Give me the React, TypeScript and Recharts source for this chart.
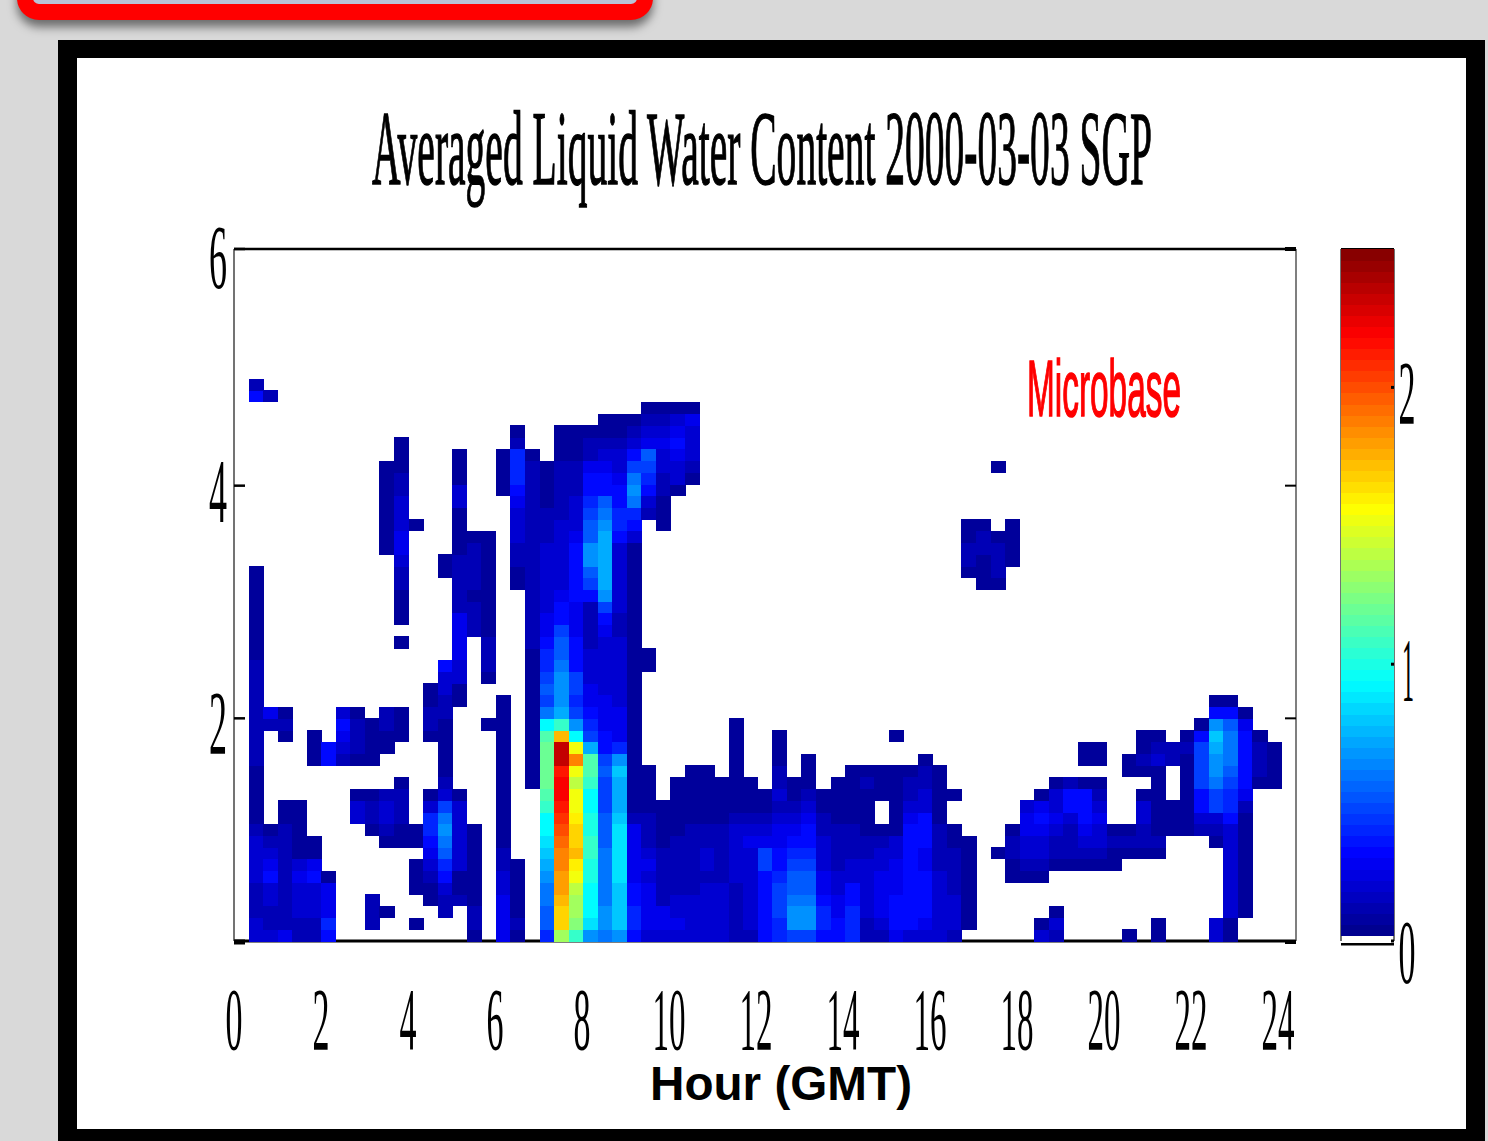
import { ScatterChart, Scatter, XAxis, YAxis, ReferenceLine } from 'recharts';

// plot box in page pixels
const W = 1488;
const H = 1141;
const LEFT = 234;
const RIGHT = 1296;
const TOP = 249;
const BOTTOM = 941;
const BAR_LEFT = 1341;
const BAR_RIGHT = 1394;

const hourTicks = [0, 2, 4, 6, 8, 10, 12, 14, 16, 18, 20, 22, 24];
const heightTicks = [0, 2, 4, 6];
const colorTicks = [0, 1, 2];

const COL_HOURS = 0.3288; // one retrieval column
const ROW_KM = 0.1016; // one range gate

// letters are LWC levels, each step is 1/15 g/m3
const LEVELS = '0123456789abcdefghijklmnopqrstuvwxyz';

// one entry per column: [first row from the ground, levels going up]
const columnRuns: [number, string][][] = [
  [],
  [[0, '33222333321111122222222211111111'], [46, '52']],
  [[0, '3223354321'], [18, '24'], [46, '2']],
  [[0, '422222222211'], [17, '121']],
  [[0, '223334311111']],
  [[0, '223335411'], [15, '111']],
  [[0, '564441'], [15, '55']],
  [[15, '23453']],
  [[10, '331'], [15, '12221']],
  [[1, '222'], [9, '1221'], [15, '1111']],
  [[2, '1'], [8, '12332'], [16, '1122'], [33, '11111111']],
  [[8, '112221'], [17, '111'], [25, '1'], [27, '1112234433322111']],
  [[1, '1'], [4, '111'], [8, '11'], [35, '1']],
  [[3, '1123456631'], [17, '12211']],
  [[2, '2235689a97321111122335'], [31, '11']],
  [[3, '2113333331'], [20, '1133444422222111133111']],
  [[0, '1221111111'], [26, '222122221']],
  [[18, '1'], [22, '1222111111111']],
  [[0, '444433221111111111111'], [38, '1111']],
  [[0, '1211111'], [30, '11223334566621']],
  [[13, '11111111111122222222222222221']],
  [[0, '68899abcdeeghiiiihe9787665443333332221111']],
  [[0, 'kppqrrsstuvwxxwzzqgbaaa988755433333322222111']],
  [[0, 'gjkklnoqpponnlnsnea76775554445555543332221 11'.replace(' ', '')]],
  [[0, 'adeeeffggffeeghhb765443332222578aa8876554221']],
  [[0, '9aa999998887778755444333334 57abbbbba98554 3211'.replace(/ /g, '')]],
  [[0, 'accccdddddcbbbca64443333332233333356655433211']],
  [[0, '566554444421111111111111111111111135 69a975321'.replace(' ', '')]],
  [[0, '344443432221111'], [23, '11'], [36, '2356784321']],
  [[0, '344222221111'], [35, '11122334321']],
  [[0, '34332222211111'], [38, '13345431']],
  [[0, '333322222211111'], [39, '1233341']],
  [[0, '333332332211111']],
  [[0, '33333222221111']],
  [[0, '2222233333211111111']],
  [[0, '23333333432111']],
  [[0, '5555557743211']],
  [[0, '667776554432322111']],
  [[0, '7aa98876543211']],
  [[0, '7aa9887655432111']],
  [[0, '5665443332211']],
  [[0, '55443322221111']],
  [[0, '666553322211111']],
  [[0, '223333322111121']],
  [[0, '2344443321'], [12, '111']],
  [[0, '455544433111111'], [17, '1']],
  [[0, '355555555543221']],
  [[0, '3455554455533221']],
  [[0, '333333222211111']],
  [[0, '2333222211'], [12, '1']],
  [[1, '11111111'], [31, '12211']],
  [[30, '111221']],
  [[7, '1'], [30, '12221'], [40, '1']],
  [[5, '11221'], [32, '1111']],
  [[5, '1233443']],
  [[0, '31'], [5, '12334541']],
  [[0, '231'], [6, '12234331']],
  [[6, '12223552']],
  [[6, '12345551'], [15, '11']],
  [[6, '12334321'], [15, '11']],
  [[6, '1121']],
  [[0, '1'], [7, '121'], [14, '11']],
  [[7, '122331'], [14, '1211']],
  [[0, '11'], [7, '12111111321']],
  [[9, '111'], [15, '22']],
  [[9, '111111121']],
  [[9, '2355777751']],
  [[0, '33'], [8, '123779aabca51']],
  [[0, '113333333356678999851']],
  [[2, '111111111245555541']],
  [[13, '12221']],
  [[13, '1111']],
];

// colorbar steps, g/m3
const colorSteps = [
  0.04, 0.08, 0.12, 0.16, 0.2, 0.24, 0.28, 0.32, 0.36, 0.4, 0.44, 0.48, 0.52, 0.56, 0.6, 0.64,
  0.68, 0.72, 0.76, 0.8, 0.84, 0.88, 0.92, 0.96, 1.0, 1.04, 1.08, 1.12, 1.16, 1.2, 1.24, 1.28,
  1.32, 1.36, 1.4, 1.44, 1.48, 1.52, 1.56, 1.6, 1.64, 1.68, 1.72, 1.76, 1.8, 1.84, 1.88, 1.92,
  1.96, 2.0, 2.04, 2.08, 2.12, 2.16, 2.2, 2.24, 2.28, 2.32, 2.36, 2.4, 2.44, 2.48,
];

const cells = columnRuns.flatMap((runs, col) =>
  runs.flatMap(([start, levels]) =>
    levels.split('').map((ch, i) => ({
      x: (col + 0.5) * COL_HOURS,
      y: (start + i + 0.5) * ROW_KM,
      v: LEVELS.indexOf(ch) / 15,
    })),
  ),
);
const barCells = colorSteps.map((v) => ({ x: 0.5, y: v, v }));

// matlab jet, 0..2.5
function jet(v: number) {
  const t = Math.min(1, v / 2.5);
  const ch = (c: number) => Math.round(255 * Math.max(0, Math.min(1, c)));
  const r = ch(Math.min(4 * t - 1.5, 4.5 - 4 * t));
  const g = ch(Math.min(4 * t - 0.5, 3.5 - 4 * t));
  const b = ch(Math.min(4 * t + 0.5, 2.5 - 4 * t));
  return `rgb(${r},${g},${b})`;
}

const cellW = (COL_HOURS * (RIGHT - LEFT)) / 24;
const cellH = (ROW_KM * (BOTTOM - TOP)) / 6;
const stepH = (0.04 * (BOTTOM - TOP)) / 2.5;
const serif = '"Liberation Serif", serif';
const sans = '"Liberation Sans", sans-serif';

// the scanned axis ticks sit a little below the true scale
const tickShift: Record<number, number> = { 0: 1, 2: 8, 4: 6, 6: 0 };

function Squeezed({ cx, y, w, size, children, family = serif, weight = 400, fill = '#000', bold = 0 }: any) {
  return (
    <text x={cx - w / 2} y={y} fontSize={size} fontFamily={family} fontWeight={weight} fill={fill} stroke={bold ? fill : 'none'} strokeWidth={bold} textLength={w} lengthAdjust="spacingAndGlyphs">
      {children}
    </text>
  );
}

const HeatCell = (p: any) => (
  <rect x={p.cx - cellW / 2} y={p.cy - cellH / 2} width={cellW + 0.5} height={cellH + 0.5} fill={jet(p.payload.v)} shapeRendering="crispEdges" />
);
const BarCell = (p: any) => (
  <rect x={BAR_LEFT} y={p.cy - stepH / 2} width={BAR_RIGHT - BAR_LEFT} height={stepH + 0.5} fill={jet(p.payload.v)} shapeRendering="crispEdges" />
);
const NoMark = () => null;

const HourTick = ({ x, payload }: any) => (
  <Squeezed cx={LEFT + (x - LEFT) * 0.983} y={1049} w={payload.value < 10 ? 17 : 33} size={89}>
    {payload.value}
  </Squeezed>
);

const HeightTick = ({ y, payload }: any) => {
  const py = y + tickShift[payload.value];
  return (
    <g>
      <line x1={LEFT} x2={LEFT + 11} y1={py} y2={py} stroke="#000" strokeWidth={payload.value === 0 ? 5 : 2.5} />
      {payload.value > 0 && (
        <Squeezed cx={218} y={payload.value === 6 ? y + 39 : py + 36} w={18} size={90}>
          {payload.value}
        </Squeezed>
      )}
    </g>
  );
};

const RightTick = ({ y, payload }: any) => {
  const py = y + tickShift[payload.value];
  const corner = payload.value === 0 || payload.value === 6;
  return <line x1={RIGHT - 11} x2={RIGHT} y1={py} y2={py} stroke="#000" strokeWidth={corner ? 4 : 2} />;
};

const ColorTick = ({ y, payload }: any) => (
  <g>
    <line x1={BAR_RIGHT - 3} x2={BAR_RIGHT} y1={y} y2={y} stroke="#000" strokeWidth={3} />
    <Squeezed cx={payload.value === 1 ? 1408 : 1407} y={y + (payload.value === 0 ? 42 : 37)} w={payload.value === 1 ? 12 : 17} size={90}>
      {payload.value}
    </Squeezed>
  </g>
);

export default function App() {
  return (
    <div style={{ position: 'absolute', left: 0, top: 0, width: W, height: H, overflow: 'hidden', background: '#d9d9d9' }}>
      {/* red box cut off by the slide edge */}
      <div style={{ position: 'absolute', left: 17, top: -76, width: 604, height: 64, background: '#b9c3d6', border: '16px solid #ff0000', borderRadius: 22, boxShadow: '0 7px 10px rgba(0,0,0,0.5)' }} />
      {/* black frame */}
      <div style={{ position: 'absolute', left: 58, top: 40, width: 1389, height: 1071, background: '#fff', border: '19px solid #000', borderTopWidth: 18 }} />

      <div style={{ position: 'absolute', left: 0, top: 0 }}>
        <ScatterChart width={W} height={H} margin={{ left: LEFT - 1, right: W - RIGHT - 1, top: TOP - 1, bottom: H - BOTTOM - 1 }}>
          <XAxis dataKey="x" type="number" domain={[0, 24]} ticks={hourTicks} height={1} tickLine={false} tick={HourTick} interval={0} stroke="#000" strokeWidth={3} />
          <XAxis xAxisId="top" orientation="top" type="number" domain={[0, 24]} height={1} tick={false} tickLine={false} stroke="#000" strokeWidth={2.5} />
          <YAxis dataKey="y" type="number" domain={[0, 6]} ticks={heightTicks} width={1} tickLine={false} tick={HeightTick} interval={0} stroke="#444" strokeWidth={1.5} />
          <YAxis yAxisId="right" dataKey="y" orientation="right" type="number" domain={[0, 6]} ticks={heightTicks} width={1} tickLine={false} tick={RightTick} interval={0} stroke="#555" strokeWidth={1.5} />
          <Scatter data={cells} shape={HeatCell} isAnimationActive={false} />
          <Scatter yAxisId="right" data={cells.slice(0, 1)} shape={NoMark} isAnimationActive={false} />
          <Squeezed cx={762} y={184} w={780} size={106} bold={1.4}>Averaged Liquid Water Content 2000-03-03 SGP</Squeezed>
          <Squeezed cx={1104} y={416} w={154} size={80} family={sans} fill="#ff0000" bold={1.6}>Microbase</Squeezed>
          <Squeezed cx={781} y={1100} w={262} size={48} family={sans} weight={700}>Hour (GMT)</Squeezed>
        </ScatterChart>
      </div>

      <div style={{ position: 'absolute', left: 0, top: 0 }}>
        <ScatterChart width={W} height={H} margin={{ left: BAR_LEFT - 1, right: W - BAR_RIGHT - 1, top: TOP, bottom: H - BOTTOM - 1 }}>
          <XAxis dataKey="x" type="number" domain={[0, 1]} height={1} tick={false} tickLine={false} axisLine={false} />
          <YAxis dataKey="y" type="number" domain={[0, 2.5]} width={1} tick={false} tickLine={false} stroke="#444" strokeWidth={1.5} />
          <YAxis yAxisId="right" dataKey="y" orientation="right" type="number" domain={[0, 2.5]} ticks={colorTicks} width={1} tickLine={false} tick={ColorTick} interval={0} stroke="#444" strokeWidth={1.5} />
          <Scatter data={barCells} shape={BarCell} isAnimationActive={false} />
          <Scatter yAxisId="right" data={barCells.slice(0, 1)} shape={NoMark} isAnimationActive={false} />
          <ReferenceLine y={2.5} stroke="#000" strokeWidth={2} />
          <ReferenceLine y={-0.012} ifOverflow="visible" stroke="#000" strokeWidth={2.5} />
        </ScatterChart>
      </div>
    </div>
  );
}
